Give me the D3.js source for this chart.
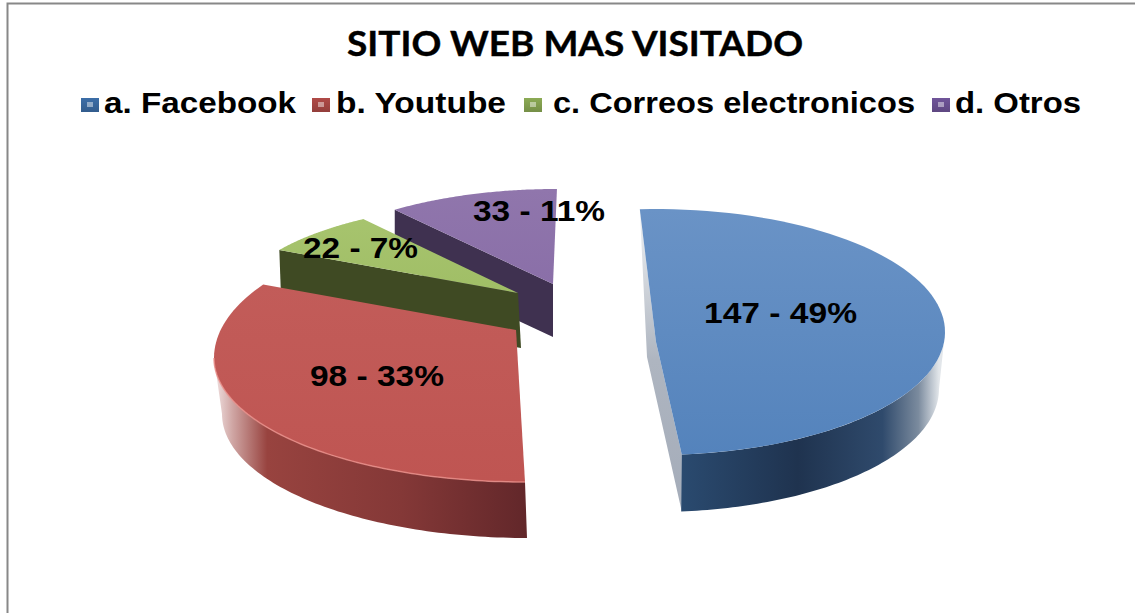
<!DOCTYPE html>
<html><head><meta charset="utf-8">
<script src="https://cdnjs.cloudflare.com/ajax/libs/d3/7.8.5/d3.min.js"></script>
<style>html,body{margin:0;padding:0;background:#fff;overflow:hidden}svg{display:block}</style>
</head><body>
<script>
const chartTitle = "SITIO WEB MAS VISITADO";
const categories = ["a. Facebook", "b. Youtube", "c. Correos electronicos", "d. Otros"];
const visits = [147, 98, 22, 33];

// Layout of the exploded, tilted pie (one projection per slice; angles come from d3.pie)
const layout = [
  {ex:655, ey:332, rx:290, ry:123, off:0.6, k:1.0074, ax:656, ay:342, sx:647, sy:357, depth:57, lowRx:284, lowDx:0, lx:704, ly:323, lw:153, lgx:81, ltx:104, ltw:192},
  {ex:525, ey:358, rx:311, ry:124, ryUp:136, off:7.2, k:1.043, ax:516, ay:330, depth:56, lowRx:305, lowDx:2, lx:310, ly:386, lw:134, lgx:312, ltx:336, ltw:170},
  {ex:540, ey:300, rx:301, ry:100, off:9.6, k:0.91, ax:518, ay:293, bx:521, depth:55, lx:303, ly:258, lw:115, lgx:524, ltx:553, ltw:362},
  {ex:556, ey:300, rx:277, ry:111, off:7.6, k:0.904, ax:553, ay:284, depth:53, lx:473, ly:221, lw:132, lgx:932, ltx:955, ltw:126}
];
const rad = Math.PI / 180;
const W = 1135, H = 613;
const svg = d3.select("body").append("svg").attr("width", W).attr("height", H);
const defs = svg.append("defs");

function grad(id, x1, y1, x2, y2, stops) {
  const g = defs.append("linearGradient").attr("id", id).attr("gradientUnits", "userSpaceOnUse")
    .attr("x1", x1).attr("y1", y1).attr("x2", x2).attr("y2", y2);
  stops.forEach(s => g.append("stop").attr("offset", s[0]).attr("stop-color", s[1]));
}
grad("topB", 0, 209, 0, 455, [[0, "#6a93c6"], [1, "#5483bc"]]);
grad("topR", 0, 283, 0, 482, [[0, "#c25c59"], [1, "#bf5552"]]);
grad("topG", 0, 217, 0, 293, [[0, "#a7c46e"], [1, "#a0be66"]]);
grad("topP", 0, 189, 0, 284, [[0, "#9076ac"], [1, "#8a6fa8"]]);
grad("sideB", 682, 0, 939, 0, [[0, "#2a4a6f"], [0.45, "#1f334f"], [0.78, "#2f4a6c"], [0.92, "#7b8b9e"], [1, "#e2e6ea"]]);
grad("sideR", 214, 0, 527, 0, [[0, "#f2e4e4"], [0.06, "#cfa5a3"], [0.17, "#98433f"], [0.6, "#843837"], [1, "#62272a"]]);
grad("cutB", 0, 209, 0, 512, [[0, "#f0f2f4"], [0.5, "#aeb5c0"], [1, "#a4acb9"]]);
[["swB", "#3c6ea8"], ["swR", "#b04a47"], ["swG", "#8cab55"], ["swP", "#70559a"]].forEach(s =>
  grad(s[0], 0, 98, 0, 112, [[0, s[1]], [1, d3.color(s[1]).darker(0.5)]]));

const pie = d3.pie().sort(null).value(d => d).startAngle(-3.6 * rad).endAngle(356.4 * rad);
const arcs = pie(visits);
const line = d3.line().x(d => d[0]).y(d => d[1]);

// point on the slice's own ellipse for a pie angle; "low" uses the lower rim of the side wall
function project(i, a, dy, low) {
  const L = layout[i], a0 = arcs[i].startAngle;
  const t = a0 + (a - a0) * L.k + L.off * rad;
  const c = Math.cos(t);
  const rx = low ? L.lowRx : L.rx;
  const ry = c > 0 && L.ryUp ? L.ryUp : L.ry;
  return [L.ex + (low ? L.lowDx : 0) + rx * Math.sin(t), L.ey - ry * c + (dy || 0)];
}
function rimPoints(i, from, to, dy, low) {
  return d3.range(0, 81).map(n => project(i, from + (to - from) * n / 80, dy, low));
}
function rimAngle(i, deg) {
  const L = layout[i], a0 = arcs[i].startAngle;
  return a0 + (deg * rad - L.off * rad - a0) / L.k;
}
const topIds = ["topB", "topR", "topG", "topP"];
const g = svg.append("g");

function topFace(i) {
  const d = arcs[i], L = layout[i];
  g.append("path").attr("d", line([[L.ax, L.ay], ...rimPoints(i, d.startAngle, d.endAngle)]) + "Z")
    .attr("fill", `url(#${topIds[i]})`);
}
function straightSide(i, color) {
  const d = arcs[i], L = layout[i];
  const p = project(i, d.startAngle);
  g.append("path").attr("d", line([p, [L.ax, L.ay], [L.bx || L.ax, L.ay + L.depth], [p[0] + (L.bx ? 2 : 0), p[1] + L.depth]]) + "Z")
    .attr("fill", color);
}

// --- purple (furthest)
straightSide(3, "#3f3150");
topFace(3);
// --- green
straightSide(2, "#3f4a23");
topFace(2);
// --- blue
{
  const d = arcs[0], L = layout[0];
  const e = project(0, d.endAngle), s = project(0, d.startAngle);
  g.append("path").attr("d", line([s, [L.sx, L.sy], [e[0], e[1] + L.depth], e, [L.ax, L.ay]]) + "Z").attr("fill", "url(#cutB)");
  const a90 = rimAngle(0, 90);
  const upper = rimPoints(0, a90, d.endAngle);
  const lower = rimPoints(0, d.endAngle, a90, L.depth, true);
  g.append("path").attr("d", line([...upper, ...lower]) + "Z").attr("fill", "url(#sideB)");
  topFace(0);
}
// --- red
{
  const d = arcs[1], L = layout[1];
  const a270 = rimAngle(1, 270);
  const upper = rimPoints(1, d.startAngle, a270);
  const lower = rimPoints(1, a270, d.startAngle, L.depth, true);
  g.append("path").attr("d", line([...upper, ...lower]) + "Z").attr("fill", "url(#sideR)");
  topFace(1);
  g.append("path").attr("d", line(upper)).attr("fill", "none").attr("stroke", "#e88f8a").attr("stroke-width", 1.5).attr("opacity", 0.8);
}

// Frame
svg.append("path").attr("d", "M7.5,613V3.5H1135").attr("fill", "none").attr("stroke", "#888").attr("stroke-width", 2);

// Title
svg.append("text").attr("x", 347).attr("y", 56)
  .attr("textLength", 456).attr("lengthAdjust", "spacingAndGlyphs")
  .attr("font-family", "Lato, 'Open Sans', sans-serif").attr("font-weight", 700).attr("font-size", 34)
  .attr("fill", "#000").attr("stroke", "#000").attr("stroke-width", 0.4).text(chartTitle);

// Legend
const swatch = ["swB", "swR", "swG", "swP"];
const lg = svg.append("g").selectAll("g").data(categories).join("g");
lg.append("rect").attr("x", (d, i) => layout[i].lgx).attr("y", 98).attr("width", 18).attr("height", 14)
  .attr("fill", (d, i) => `url(#${swatch[i]})`);
lg.append("rect").attr("x", (d, i) => layout[i].lgx + 6).attr("y", 102).attr("width", 6).attr("height", 5)
  .attr("fill", "#fff").attr("opacity", 0.45);
lg.append("text").attr("x", (d, i) => layout[i].ltx).attr("y", 113)
  .attr("textLength", (d, i) => layout[i].ltw).attr("lengthAdjust", "spacingAndGlyphs")
  .attr("font-family", "'Liberation Sans', Arial, sans-serif").attr("font-weight", 700).attr("font-size", 30)
  .attr("fill", "#000").text(d => d);

// Data labels
const total = d3.sum(visits);
svg.append("g").selectAll("text").data(visits).join("text")
  .attr("x", (d, i) => layout[i].lx).attr("y", (d, i) => layout[i].ly)
  .attr("textLength", (d, i) => layout[i].lw).attr("lengthAdjust", "spacingAndGlyphs")
  .attr("font-family", "'Liberation Sans', Arial, sans-serif").attr("font-weight", 700).attr("font-size", 30)
  .attr("fill", "#000").text(d => `${d} - ${Math.round(d / total * 100)}%`);
</script>
</body></html>
